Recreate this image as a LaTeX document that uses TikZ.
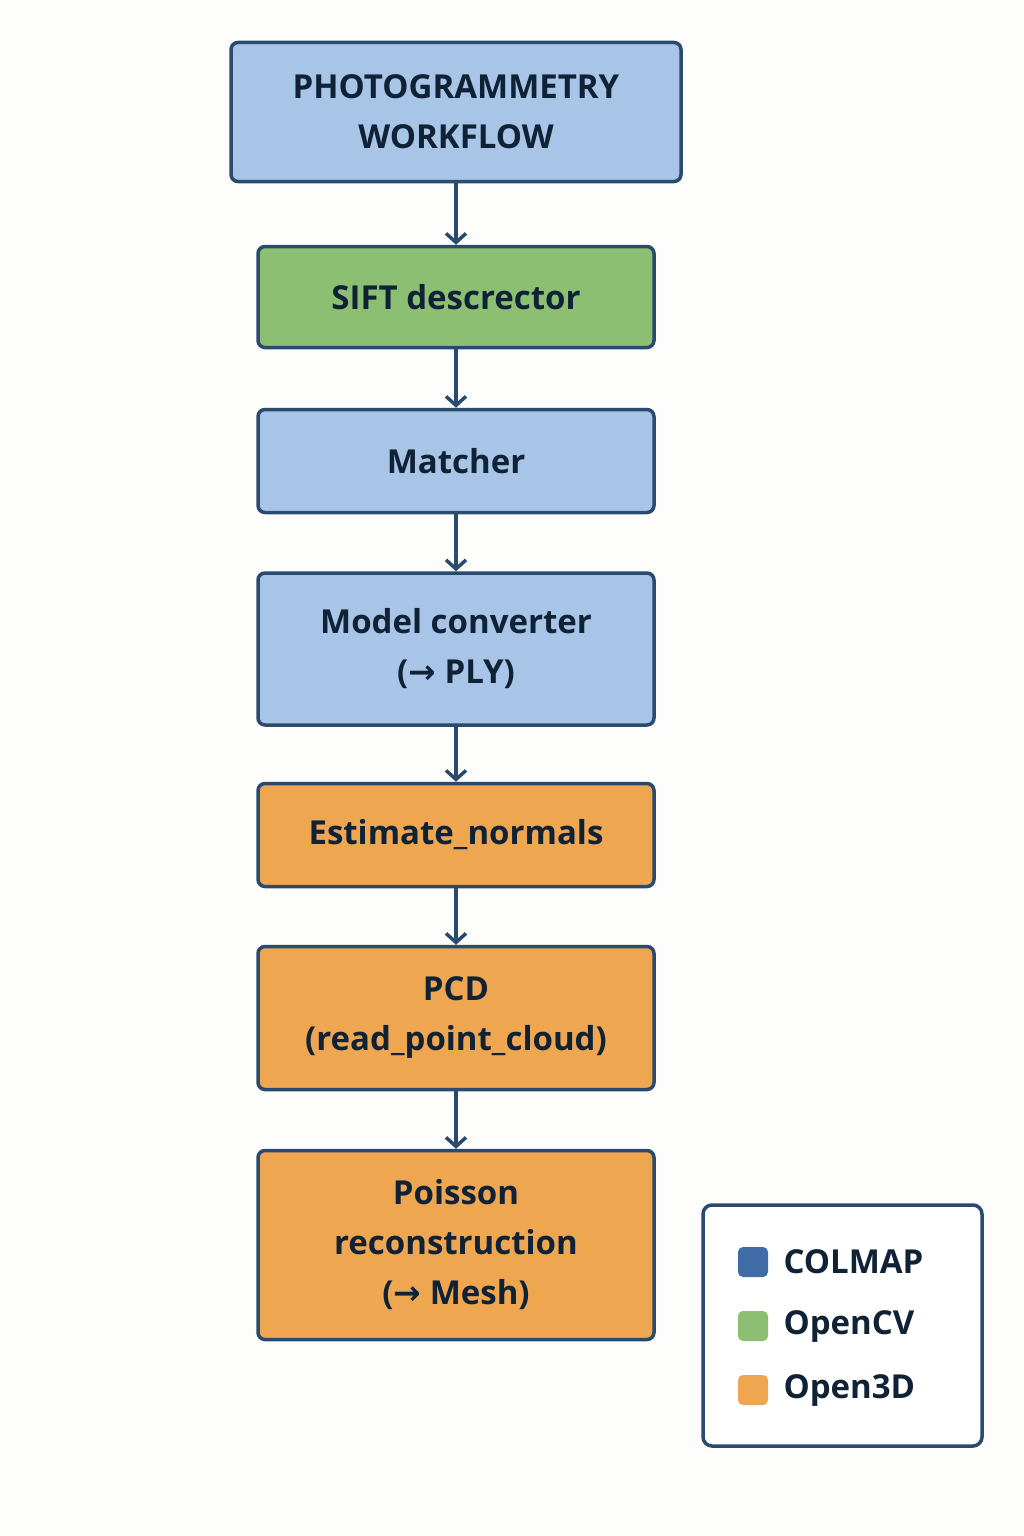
\documentclass[tikz,border=0pt]{standalone}
\usepackage{fontspec}
\setmainfont{Open Sans}
\newfontfamily\arrowfont{DejaVu Sans}
\usetikzlibrary{arrows.meta}
\definecolor{bg}{HTML}{FDFDFB}
\definecolor{edge}{HTML}{2B4B6E}
\definecolor{blu}{HTML}{A8C4E6}
\definecolor{grn}{HTML}{8DBF73}
\definecolor{org}{HTML}{EEA651}
\definecolor{txt}{HTML}{0F2236}
\definecolor{cblue}{HTML}{3F6CA6}
\newcommand{\ar}{{\arrowfont\bfseries →}}
\begin{document}
\begin{tikzpicture}[x=1pt,y=-1pt,
  box/.style={draw=edge,line width=3.5pt,rounded corners=7pt,text=txt,font=\fontsize{33}{50}\selectfont\bfseries,align=center,inner sep=0pt},
  conn/.style={draw=edge,line width=3.5pt,-{Straight Barb[length=9pt,width=20pt,line width=3.5pt]}},
  sw/.style={rounded corners=5pt,minimum size=30pt,inner sep=0pt}]
\fill[bg] (0,0) rectangle (1024,1536);
\node[box,fill=blu,minimum width=450pt,minimum height=139pt] (t) at (456,112) {PHOTOGRAMMETRY\\WORKFLOW};
\node[box,fill=grn,minimum width=396pt,minimum height=101pt] (s) at (456,297) {SIFT descrector};
\node[box,fill=blu,minimum width=396pt,minimum height=103pt] (m) at (456,461) {Matcher};
\node[box,fill=blu,minimum width=396pt,minimum height=152pt] (c) at (456,649) {Model converter\\(\ar{} PLY)};
\node[box,fill=org,minimum width=396pt,minimum height=103pt] (e) at (456,835) {Estimate\_normals};
\node[box,fill=org,minimum width=396pt,minimum height=143pt] (p) at (456,1018) {PCD\\(read\_point\_cloud)};
\node[box,fill=org,minimum width=396pt,minimum height=189pt] (r) at (456,1245) {Poisson\\reconstruction\\(\ar{} Mesh)};
\draw[conn] (t) -- (s);
\draw[conn] (s) -- (m);
\draw[conn] (m) -- (c);
\draw[conn] (c) -- (e);
\draw[conn] (e) -- (p);
\draw[conn] (p) -- (r);
\node[draw=edge,line width=3.5pt,rounded corners=9pt,fill=white,minimum width=279pt,minimum height=241pt] (lg) at (842.5,1325.5) {};
\node[sw,fill=cblue] (l1) at (753,1262) {};
\node[sw,fill=grn] (l2) at (753,1326) {};
\node[sw,fill=org] (l3) at (753,1390) {};
\node[anchor=west,text=txt,font=\fontsize{33}{40}\selectfont\bfseries] (n1) at (780,1262) {COLMAP};
\node[anchor=west,text=txt,font=\fontsize{33}{40}\selectfont\bfseries] (n2) at (780,1326) {OpenCV};
\node[anchor=west,text=txt,font=\fontsize{33}{40}\selectfont\bfseries] (n3) at (780,1390) {Open3D};
\end{tikzpicture}
\end{document}
